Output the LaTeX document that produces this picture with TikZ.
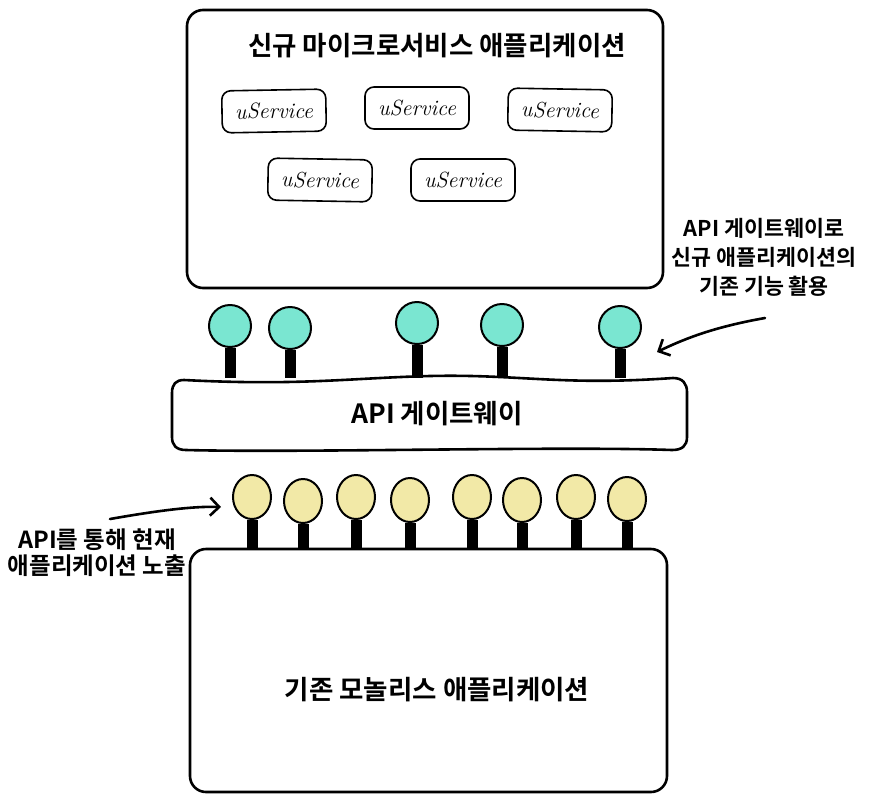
\documentclass[tikz,border=0pt]{standalone}
\usepackage{fontspec}
\newfontfamily\kr{Noto Sans CJK KR}[BoldFont={Noto Sans CJK KR Bold}]
\usetikzlibrary{shapes.geometric,arrows.meta}
\definecolor{tealball}{RGB}{122,230,209}
\definecolor{yelball}{RGB}{242,233,167}
\tikzset{
 bigbox/.style={draw, line width=2.6, rounded corners=16, inner sep=0},
 svc/.style={draw, line width=1.6, rounded corners=9, minimum width=104, minimum height=42, inner sep=0, font=\itshape\fontsize{22}{22}\selectfont},
 ttl/.style={font=\kr\bfseries\fontsize{26.5}{26.5}\selectfont},
 lbl/.style={font=\kr\bfseries\fontsize{21.7}{29}\selectfont, align=center},
 lbll/.style={font=\kr\bfseries\fontsize{23.5}{26}\selectfont, align=center},
 tball/.style={circle, draw, line width=2, fill=tealball, minimum size=42, inner sep=0},
 yball/.style={ellipse, draw, line width=2, fill=yelball, minimum width=38, minimum height=44, inner sep=0},
 stem/.style={line width=11},
 callout/.style={line width=2.6, line cap=round, -{Straight Barb[length=9,width=18]}}
}
\begin{document}
\begin{tikzpicture}[x=1pt,y=-1pt]
\useasboundingbox (0,0) rectangle (871,796);

% new microservice application
\node[bigbox, minimum width=476, minimum height=278] (newapp) at (425,149) {};
\node[ttl] (newtitle) at (437,46) {신규 마이크로서비스 애플리케이션};
\node[svc, rotate=1] (s1) at (274,111) {uService};
\node[svc] (s2) at (417,108) {uService};
\node[svc, rotate=-1] (s3) at (560,110) {uService};
\node[svc, rotate=-1] (s4) at (320,180) {uService};
\node[svc] (s5) at (463,180) {uService};

% API gateway
\node[minimum width=515, minimum height=72, inner sep=0] (gw) at (429.5,414) {};
\node[ttl] (gwtitle) at (437,414) {API 게이트웨이};
\draw[line width=2.6, line join=round]
  (184,380) .. controls (300,386) and (350,378) .. (430,376)
  .. controls (520,374) and (560,386) .. (673,378)
  .. controls (683,378) and (687,384) .. (687,392) -- (687,437)
  .. controls (687,446) and (682,450) .. (672,450)
  .. controls (560,446) and (300,453) .. (186,450)
  .. controls (176,450) and (172,445) .. (172,437) -- (172,393)
  .. controls (172,384) and (176,380) .. (184,380) -- cycle;

% teal endpoints
\node[tball] (t1) at (230,326) {};
\node[tball] (t2) at (290,328) {};
\node[tball] (t3) at (417,323) {};
\node[tball] (t4) at (502,325) {};
\node[tball] (t5) at (620,327) {};
\foreach \n in {t1,t2,t3,t4,t5}
  \draw[stem] (\n.south) -- (\n.south |- gw.north);

% legacy monolith
\node[bigbox, minimum width=477, minimum height=243] (legacy) at (428.5,670.5) {};
\node[ttl] (legtitle) at (437,690) {기존 모놀리스 애플리케이션};

% yellow endpoints
\node[yball] (y1) at (252,497) {};
\node[yball] (y2) at (303,501) {};
\node[yball] (y3) at (356,497) {};
\node[yball] (y4) at (410,500) {};
\node[yball] (y5) at (472,497) {};
\node[yball] (y6) at (522,500) {};
\node[yball] (y7) at (576,497) {};
\node[yball] (y8) at (627,499) {};
\foreach \n in {y1,y2,y3,y4,y5,y6,y7,y8}
  \draw[stem] (\n.south) -- (\n.south |- legacy.north);

% annotations
\node[lbll] (lnote) at (97,553) {API를 통해 현재\\애플리케이션 노출};
\node[lbl] (rnote) at (764,257) {API 게이트웨이로\\신규 애플리케이션의\\기존 기능 활용};

\coordinate (lstart) at (110,519);
\coordinate (ltip) at (221,507);
\draw[callout] (lstart) .. controls (150,512) and (190,506) .. (ltip);

\coordinate (rstart) at (765,318);
\coordinate (rtip) at (657,352);
\draw[callout] (rstart) .. controls (720,326) and (690,336) .. (rtip);
\end{tikzpicture}
\end{document}
